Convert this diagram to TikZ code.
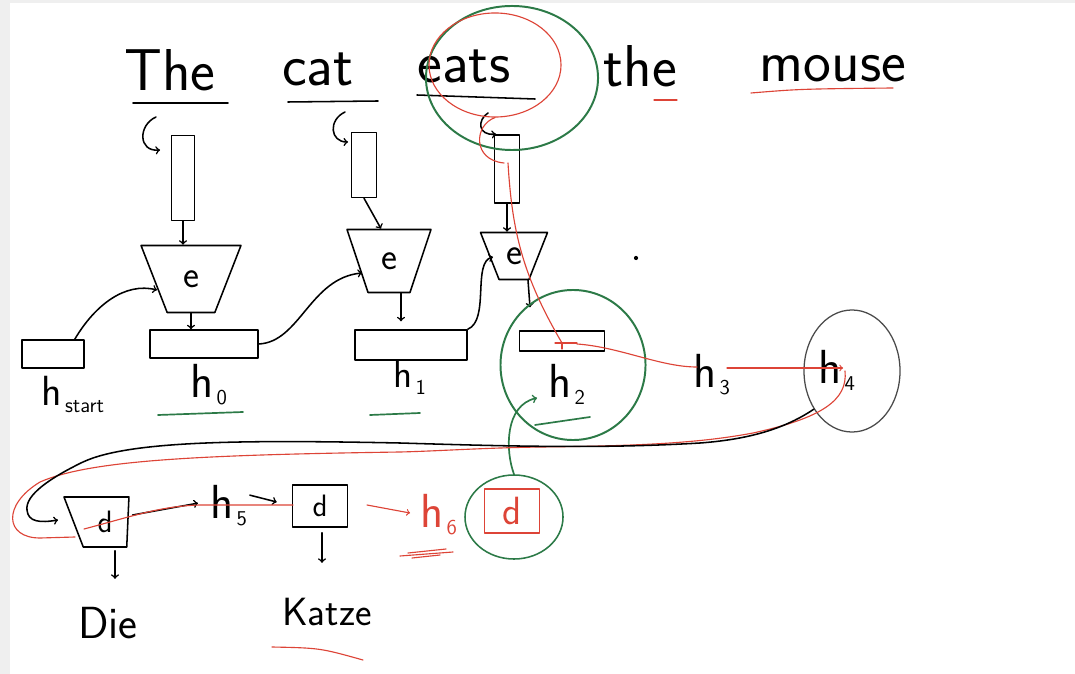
\documentclass[tikz,border=0pt]{standalone}
\usetikzlibrary{shapes.geometric,positioning,calc}
\newcommand{\lowidx}[1]{\hspace{2pt}\raisebox{-5pt}{\fontsize{15}{15}\selectfont #1}}
\begin{document}
\begin{tikzpicture}[x=0.025cm, y=-0.025cm, line width=1.1pt, line cap=round, line join=round,
    word/.style={inner sep=0pt, anchor=base, font=\sffamily\fontsize{42}{48}\selectfont},
    lab/.style={inner sep=0pt, anchor=base west, font=\sffamily\fontsize{34}{40}\selectfont},
    onehot/.style={draw, inner sep=0pt},
    enc/.style={draw, trapezium, shape border rotate=180, trapezium stretches=true, inner sep=0pt, font=\sffamily\fontsize{27}{30}\selectfont},
    hbox/.style={draw, inner sep=0pt},
    dec/.style={draw, inner sep=0pt, font=\sffamily\fontsize{22}{26}\selectfont},
    ring/.style={draw, ellipse, inner sep=0pt},
    flow/.style={draw=inkRed, line width=0.8pt},
    greenline/.style={draw=inkGreen, line width=1.2pt},
]
    \definecolor{inkGreen}{HTML}{2C7A47}
    \definecolor{inkRed}{HTML}{DD4437}
    \definecolor{inkGray}{HTML}{4A4A4A}
    \definecolor{paperEdge}{HTML}{EFEFEF}

    % Paper
    \useasboundingbox (0,0) rectangle (1075,674);
    \fill[paperEdge] (0,0) rectangle (1075,674);
    \fill[white] (10,3) rectangle (1075,674);

    % Source sentence
    \node[word] (wThe)   at (170,91) {The};
    \node[word] (wCat)   at (318,86) {cat};
    \node[word] (wEats)  at (464,83) {eats};
    \node[word] (wThe2)  at (640,87) {the};
    \node[word] (wMouse) at (833,82) {mouse};

    \draw (133,103) -- (228,103);
    \draw (288,102) -- (378,101);
    \draw (417,95) -- (535,99);
    \draw[flow] (654,100) -- (677,100);
    \draw[flow] (751,93) .. controls (800,89) .. (893,88);

    % One-hot vectors
    \node[onehot, minimum width=0.575cm, minimum height=2.125cm] (vThe) at (183,178) {};
    \node[onehot, minimum width=0.625cm, minimum height=1.625cm] (vCat) at (364,165) {};
    \node[onehot, minimum width=0.625cm, minimum height=1.7cm] (vEats) at (507,169) {};

    \draw[->] (156,117) .. controls (138,125) and (138,152) .. (160,150);
    \draw[->] (345,112) .. controls (328,120) and (330,142) .. (348,142);
    \draw[->] (488,113) .. controls (477,120) and (478,136) .. (496,134);

    % Encoders
    \node[enc, minimum width=2.5cm, minimum height=1.675cm, trapezium angle=63] (eThe) at (191,279) {e};
    \node[enc, minimum width=2.1cm, minimum height=1.575cm, trapezium angle=65] (eCat) at (389,261) {e};
    \node[enc, minimum width=1.675cm, minimum height=1.175cm, trapezium angle=60] (eEats) at (514,256) {e};

    \draw[->] (vThe.south) -- (vThe.south |- eThe.north);
    \draw[->] (vCat.south) -- ($(eCat.north)+(-8,0)$);
    \draw[->] (vEats.south) -- (vEats.south |- eEats.north);

    % Hidden states
    \node[hbox, minimum width=1.55cm, minimum height=0.7cm] (hStart) at (53,354) {};
    \node[hbox, minimum width=2.7cm, minimum height=0.7cm] (hZero) at (204,344) {};
    \node[hbox, minimum width=2.8cm, minimum height=0.75cm] (hOne) at (411,345) {};
    \node[hbox, minimum width=2.125cm, minimum height=0.5cm] (hTwo) at (562,341) {};

    \draw[->] (eThe.south) -- (eThe.south |- hZero.north);
    \draw[->] ($(eCat.south)+(12,0)$) -- ++(0,28);
    \draw[->] ($(eEats.south)+(14,0)$) -- ++(2,27);

    \draw[->] ($(hStart.north east)+(-10,0)$) .. controls (95,305) and (125,282) .. (157,290);
    \draw[->] (hZero.east) .. controls (300,342) and (310,278) .. (362,273);
    \draw[->] (hOne.north east) .. controls (490,320) and (472,262) .. (493,257);

    \node[lab, font=\sffamily\fontsize{30}{34}\selectfont] (lStart) at (41,405) {h\lowidx{start}};
    \node[lab] (lZero)  at (190,397) {h\lowidx{0}};
    \node[lab, font=\sffamily\fontsize{28}{32}\selectfont] (lOne) at (393,387) {h\lowidx{1}};
    \node[lab] (lTwo)   at (548,397) {h\lowidx{2}};
    \node[lab] (lThree) at (693,387) {h\lowidx{3}};
    \node[lab] (lFour)  at (818,383) {h\lowidx{4}};
    \node[lab] (lFive)  at (210,518) {h\lowidx{5}};
    \node[lab, text=inkRed] (lSix) at (420,527) {h\lowidx{6}};

    \draw[greenline] (158,415) -- (243,412);
    \draw[greenline] (370,415) -- (420,413);
    \draw[greenline] (535,425) -- (590,417);

    % Decoders
    \node[dec, trapezium, shape border rotate=180, trapezium stretches=true, trapezium left angle=88,
          trapezium right angle=73, minimum width=1.625cm, minimum height=1.25cm] (dOne) at (105,522) {d};
    \node[dec, minimum width=1.375cm, minimum height=1.05cm] (dTwo) at (320,506) {d};
    \node[dec, draw=inkRed, text=inkRed, minimum width=1.375cm, minimum height=1.1cm,
          font=\sffamily\fontsize{28}{32}\selectfont] (dThree) at (512,511) {d};

    \draw[->] ($(dOne.east)+(4,-7)$) -- ($(lFive.west)+(-12,-2)$);
    \draw[->] ($(lFive.east)+(2,-10)$) -- ($(dTwo.west)+(-15,-4)$);
    \draw[->] ($(dOne.south)+(10,3)$) -- ++(0,28);
    \draw[->] ($(dTwo.south)+(2,5)$) -- ++(0,30);

    \node[word, font=\sffamily\fontsize{32}{36}\selectfont] (outDie) at (108,638) {Die};
    \node[word, font=\sffamily\fontsize{28}{32}\selectfont] (outKatze) at (327,625) {Katze};
    \draw[flow] (272,647) .. controls (320,648) .. (363,660);

    % Circles
    \node[ring, draw=inkGreen, line width=1.4pt, minimum width=4.3cm, minimum height=3.6cm] (ringEats) at (512,78) {};
    \node[ring, draw=inkRed, line width=0.8pt, minimum width=3.3cm, minimum height=2.6cm] (ringEatsRed) at (495,65) {};
    \node[ring, draw=inkGreen, line width=1.4pt, minimum width=3.625cm, minimum height=3.75cm] (ringTwo) at (573,365) {};
    \node[ring, draw=inkGray, line width=0.9pt, minimum width=2.4cm, minimum height=3.05cm] (ringFour) at (852,371) {};
    \node[ring, draw=inkGreen, line width=1.1pt, minimum width=2.45cm, minimum height=2.1cm] (ringDec) at (514,517) {};

    \draw[greenline, ->] (ringDec.north) .. controls (505,450) and (505,405) .. (537,398);

    % Red flow
    \draw[flow] (ringEatsRed.south) .. controls (474,125) and (472,160) .. (504,163);
    \draw[flow] (508,163) .. controls (512,230) and (522,275) .. (562,343);
    \draw[flow] (555,343) -- (577,343) (562,343) -- (562,349);
    \draw[flow] (577,344) .. controls (620,347) and (660,367) .. (697,367);
    \draw[flow, ->] (727,368) -- (843,368);
    \draw[flow] (845,371) .. controls (848,400) and (822,418) .. (753,433)
        .. controls (700,443) and (640,446) .. (540,447)
        .. controls (480,448) and (440,451) .. (400,452)
        .. controls (200,455) and (90,460) .. (40,482)
        .. controls (2,505) and (5,538) .. (40,538) -- (75,537);
    \draw[flow] (84,529) .. controls (130,517) and (160,506) .. (200,505) -- (293,505);
    \draw[flow, ->] (367,505) -- (410,513);
    \draw[flow] (400,556) -- (453,552) (408,553) -- (446,549) (412,558) -- (440,555);

    % Black feedback
    \draw[->] (ringFour.225) .. controls (780,432) and (740,440) .. (700,443)
        .. controls (600,449) and (500,446) .. (400,443)
        .. controls (250,440) and (130,440) .. (83,462)
        .. controls (50,478) and (25,495) .. (27,510)
        .. controls (28,522) and (40,523) .. (58,520);

    \fill (636,258) circle (1.5pt);
\end{tikzpicture}
\end{document}
